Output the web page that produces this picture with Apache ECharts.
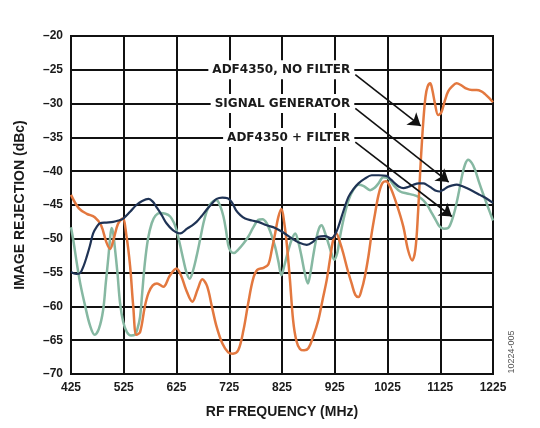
<!DOCTYPE html>
<html>
<head>
<meta charset="utf-8">
<script src="https://cdn.jsdelivr.net/npm/echarts@6/dist/echarts.min.js"></script>
<style>
html,body{margin:0;padding:0;background:#fff;}
#chart{width:540px;height:428px;}
</style>
</head>
<body>
<div id="chart"></div>
<script>
// ---- axis ----
const xStart = 425, xEnd = 1225, xStep = 100;
const yMin = -70, yMax = -20, yStep = 5;

// ---- ADF4350, NO FILTER (orange) ----
const noFilterFreq = [425,440,455,470,482,492,499,506,514,523,530,537,543,549,556,565,572,580,588,600,612,625,634,643,655,665,674,683,692,701,712,723,732,742,752,761,770,778,790,799,806,812,818,824,829,834,840,846,852,859,867,875,884,894,902,910,916,922,928,934,941,949,957,964,970,976,982,989,995,1002,1008,1015,1022,1030,1042,1055,1064,1072,1078,1083,1087,1090,1093,1097,1101,1106,1110,1115,1121,1127,1134,1140,1147,1156,1165,1175,1185,1194,1203,1210,1218,1225];
const noFilterDb = [-43.5,-45.5,-46.3,-46.8,-48,-50.5,-51.5,-50,-47.8,-47,-49.5,-54,-60,-64.2,-63.8,-60,-58,-56.9,-56.6,-57.1,-55.5,-54.4,-55.5,-57.5,-59.3,-57.5,-56,-57,-60,-63,-65.5,-66.8,-67,-66.5,-63.5,-59.5,-56,-54.6,-54.3,-53.8,-51.5,-49.2,-46.8,-45.6,-47.5,-50.7,-56,-62,-65,-66.3,-66.5,-66.2,-64.5,-62,-59,-56,-53,-50.2,-49.2,-50.3,-52.1,-54.5,-56.6,-58.3,-58.6,-57.5,-55.6,-52.5,-49.2,-46,-43.5,-41.8,-41.5,-42.3,-44.8,-48.2,-51.7,-53.2,-51.5,-46,-40,-36,-32.5,-29,-27.5,-27,-28,-30,-31.7,-31.3,-29.5,-28.2,-27.5,-27,-27.3,-27.8,-28,-28,-28.2,-28.6,-29.2,-29.8];

// ---- SIGNAL GENERATOR (navy) ----
const sigGenFreq = [425,435,442,449,455,461,467,474,480,492,505,515,524,537,549,560,572,580,587,597,606,618,632,645,655,663,672,682,692,701,712,722,730,738,746,755,768,780,796,812,828,843,858,872,883,894,906,919,926,932,941,951,960,970,982,995,1008,1023,1031,1039,1047,1055,1065,1074,1084,1093,1101,1109,1117,1124,1132,1140,1148,1156,1166,1175,1188,1200,1212,1225];
const sigGenDb = [-54.9,-55.2,-55.1,-54,-52.6,-51,-49.2,-48.2,-47.7,-47.6,-47.5,-47.3,-47,-46,-45,-44.4,-44.1,-44.5,-45.3,-46.5,-47.7,-48.7,-49.2,-48.5,-48,-47.5,-46.7,-45.7,-44.8,-44.1,-43.9,-44,-44.6,-45.8,-46.5,-47,-47.3,-47.5,-48,-48.4,-49.1,-49.9,-50.6,-50.9,-50.5,-49.7,-49.6,-49.9,-49.3,-48.2,-46,-43.8,-42.7,-41.8,-41.1,-40.6,-40.6,-40.7,-41.2,-41.8,-42.3,-42.5,-42.3,-42,-41.8,-41.8,-42.1,-42.5,-42.9,-43,-42.7,-42.3,-42.1,-42,-42.2,-42.5,-43,-43.5,-44,-44.7];

// ---- ADF4350 + FILTER (green) ----
const filterFreq = [425,430,436,443,452,461,470,478,486,491,496,499,502,505,508,513,518,524,531,539,546,551,556,560,565,571,578,585,594,604,613,620,625,632,638,644,650,656,663,670,676,682,688,695,701,708,714,719,723,728,734,742,752,761,770,780,788,796,804,812,818,824,830,837,844,850,856,862,868,874,879,884,890,895,900,906,913,919,924,930,935,942,951,960,970,980,992,1000,1008,1017,1027,1038,1049,1062,1074,1084,1093,1101,1109,1117,1124,1132,1140,1147,1153,1160,1166,1172,1178,1185,1191,1198,1206,1214,1225];
const filterDb = [-48.3,-50.5,-53.6,-56.8,-60,-62.8,-64.2,-63.3,-60.5,-56.5,-52.6,-50,-48.4,-49.2,-51.2,-55,-59.5,-62.3,-63.8,-64.3,-64.2,-63.3,-61.5,-58,-53.6,-50,-47.7,-46.6,-46.2,-46.3,-46.7,-47.6,-48.7,-51,-53.1,-55,-55.9,-54.8,-52.6,-50,-47.7,-46,-45,-44.4,-44.3,-45.2,-46.7,-48.8,-50.9,-51.9,-52.1,-51.6,-50.7,-49.7,-48.4,-47.2,-47.1,-47.7,-49.2,-51.2,-53.3,-55.4,-53.8,-51.7,-50,-49.2,-50.5,-52.6,-55,-56.6,-55,-52.6,-50,-48.5,-48,-49,-50.7,-52.2,-53.1,-52,-49.7,-47,-44.3,-42.8,-42,-42.2,-42.8,-42.5,-41.8,-40.9,-41.1,-42.2,-43,-43.3,-43.5,-43.8,-44.3,-45.1,-46.2,-47.3,-48.2,-48.5,-48.4,-47.3,-45.7,-43.2,-40.8,-39,-38.3,-38.8,-39.8,-41.5,-43.3,-45,-47.3];

// ---- annotations ----
const labelTexts = ['ADF4350, NO FILTER', 'SIGNAL GENERATOR', 'ADF4350 + FILTER'];
const labelFreq = [963, 963, 963];
const labelDb = [-25, -30, -35];
const arrowStartFreq = [964, 964, 964];
const arrowStartDb = [-25.7, -30.7, -35.7];
const arrowEndFreq = [1088, 1141, 1147];
const arrowEndDb = [-33.3, -41.6, -46.7];

const rel = f => f - xStart;
const pairs = (fs, vs) => fs.map((f, i) => [rel(f), vs[i]]);

const chart = echarts.init(document.getElementById('chart'), null, {renderer: 'canvas'});
const tickFont = {fontFamily: 'Liberation Sans, Arial, sans-serif', fontWeight: 'bold', fontSize: 12, color: '#1a1a1a'};

chart.setOption({
  animation: false,
  backgroundColor: '#fff',
  grid: {left: 71, right: 47, top: 36, bottom: 54, show: true, borderColor: '#111', borderWidth: 2, backgroundColor: 'transparent'},
  xAxis: {
    type: 'value', min: 0, max: xEnd - xStart, interval: xStep,
    name: 'RF FREQUENCY (MHz)', nameLocation: 'middle', nameGap: 31,
    nameTextStyle: {fontFamily: 'Liberation Sans, Arial, sans-serif', fontWeight: 'bold', fontSize: 14, color: '#1a1a1a'},
    axisLine: {show: true, lineStyle: {color: '#111', width: 2}},
    axisTick: {show: false},
    axisLabel: Object.assign({margin: 8, formatter: v => String(v + xStart)}, tickFont),
    splitLine: {show: true, lineStyle: {color: '#111', width: 2}}
  },
  yAxis: {
    type: 'value', min: yMin, max: yMax, interval: yStep,
    name: 'IMAGE REJECTION (dBc)', nameLocation: 'middle', nameGap: 44, nameRotate: 90,
    nameTextStyle: {fontFamily: 'Liberation Sans, Arial, sans-serif', fontWeight: 'bold', fontSize: 14, color: '#1a1a1a'},
    axisLine: {show: true, lineStyle: {color: '#111', width: 2}},
    axisTick: {show: false},
    axisLabel: Object.assign({margin: 8, formatter: v => (v < 0 ? '\u2013' + Math.abs(v) : String(v))}, tickFont),
    splitLine: {show: true, lineStyle: {color: '#111', width: 2}}
  },
  series: [
    {
      name: 'ADF4350 + FILTER', type: 'line', data: pairs(filterFreq, filterDb),
      smooth: 0.35, showSymbol: false, z: 2,
      lineStyle: {color: '#86B8A2', width: 2.5}
    },
    {
      name: 'ADF4350, NO FILTER', type: 'line', data: pairs(noFilterFreq, noFilterDb),
      smooth: 0.35, showSymbol: false, z: 3,
      lineStyle: {color: '#E3783F', width: 2.5}
    },
    {
      name: 'SIGNAL GENERATOR', type: 'line', data: pairs(sigGenFreq, sigGenDb),
      smooth: 0.35, showSymbol: false, z: 4,
      lineStyle: {color: '#1F3355', width: 2.2}
    },
    {
      name: 'annotations', type: 'line', data: [], z: 6, silent: true,
      markPoint: {
        symbol: 'circle', symbolSize: 1, itemStyle: {color: 'rgba(0,0,0,0)'},
        label: {
          show: true, position: 'left', distance: 0,
          fontFamily: 'DejaVu Sans, sans-serif', fontWeight: 'bold', fontSize: 12, color: '#1a1a1a',
          backgroundColor: '#fff', padding: [4, 4, 3, 4],
          formatter: p => p.name
        },
        data: labelTexts.map((t, i) => ({name: t, coord: [rel(labelFreq[i]), labelDb[i]]}))
      },
      markLine: {
        silent: true,
        symbol: ['none', 'arrow'], symbolSize: 12,
        label: {show: false},
        lineStyle: {color: '#111', width: 1.6, type: 'solid'},
        itemStyle: {color: '#111'},
        data: arrowStartFreq.map((f, i) => [
          {coord: [rel(f), arrowStartDb[i]]},
          {coord: [rel(arrowEndFreq[i]), arrowEndDb[i]]}
        ])
      }
    }
  ],
  graphic: [{
    type: 'text', x: 512, y: 352, rotation: Math.PI / 2,
    style: {text: '10224-005', fontFamily: 'Liberation Sans, Arial, sans-serif', fontSize: 9, fill: '#555', align: 'center', verticalAlign: 'middle'}
  }]
});
</script>
</body>
</html>
